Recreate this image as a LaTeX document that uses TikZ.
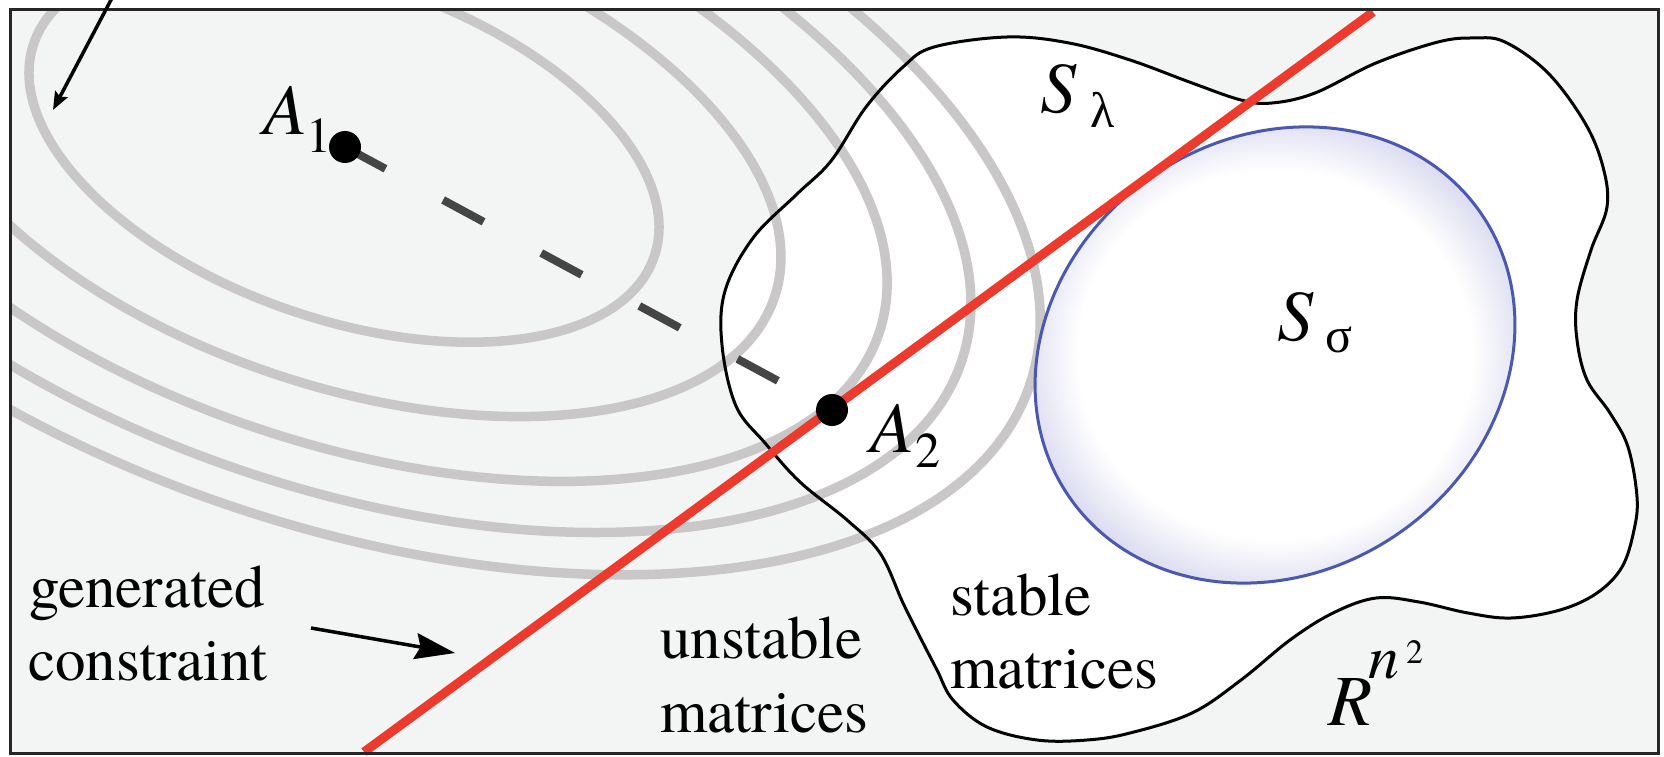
\documentclass[tikz,border=0pt]{standalone}
\usepackage{fontspec}
\setmainfont{TeX Gyre Termes}
\newfontfamily\greekf{Liberation Serif}
\usetikzlibrary{arrows.meta}
\definecolor{bgc}{HTML}{F3F5F4}
\definecolor{ringc}{HTML}{C9C7C8}
\definecolor{redc}{HTML}{EE3A2D}
\definecolor{bluec}{HTML}{4A58B0}
\definecolor{glowc}{HTML}{D0D1EB}
\definecolor{dashc}{HTML}{454545}
\pgfdeclareradialshading{sglow}{\pgfpoint{0bp}{0bp}}{color(0bp)=(white); color(18bp)=(white); color(25bp)=(glowc); color(50bp)=(glowc)}
\begin{document}
\begin{tikzpicture}[x=1pt,y=-1pt,
  ring/.style={ringc, line width=9.5},
  blobline/.style={black, line width=3},
  redline/.style={redc, line width=9},
  dashline/.style={dashc, line width=8, dash pattern=on 46pt off 65.5pt},
  dot/.style={circle, fill=black, minimum size=32pt, inner sep=0pt},
  arr/.style={black, line width=3.5, -{Stealth[length=40pt,width=26pt,inset=5pt]}},
  smallarr/.style={black, line width=3.5, -{Stealth[length=18pt,width=14pt,inset=3pt]}},
  txt/.style={anchor=base west, inner sep=0pt, font=\fontsize{61}{73}\selectfont},
  big/.style={anchor=base west, inner sep=0pt, font=\fontsize{72}{80}\selectfont\itshape},
  sub/.style={anchor=base west, inner sep=0pt, font=\fontsize{50}{55}\selectfont}]
\useasboundingbox (0,0) rectangle (1664,757);
\fill[bgc] (10,10) rectangle (1658,753);
\begin{scope}
\clip (10,10) rectangle (1658,753);
\fill[white] plot[smooth cycle, tension=0.6] coordinates {
(722,345) (725,291) (753,238) (796,195) (831,161) (866,107) (903,67) (934,47)
(1007,37) (1069,43) (1130,60) (1192,83) (1241,100) (1272,103) (1315,93) (1376,63)
(1438,42) (1474,38) (1505,42) (1548,73) (1585,123) (1603,167) (1607,207) (1591,250)
(1577,300) (1577,340) (1587,380) (1610,413) (1628,447) (1637,497) (1634,530) (1622,567)
(1597,593) (1560,610) (1511,618) (1468,613) (1419,602) (1376,598) (1333,613) (1290,640)
(1241,680) (1192,713) (1130,733) (1087,740) (1037,740) (987,727) (953,700) (937,670)
(920,637) (903,603) (880,553) (847,520) (800,482) (765,443) (736,406)};
\foreach \k in {1,1.387,1.724,1.99,2.21}
  \draw[ring, rotate around={-19:(344,150)}] (344,150) ellipse [x radius=\k*328pt, y radius=\k*169pt];
\end{scope}
\shade[shading=sglow, rotate around={34.5:(1275,355)}] (1275,355) ellipse [x radius=250pt, y radius=217pt];
\draw[bluec, line width=3, rotate around={34.5:(1275,355)}] (1275,355) ellipse [x radius=250pt, y radius=217pt];
\draw[blobline] plot[smooth cycle, tension=0.6] coordinates {
(722,345) (725,291) (753,238) (796,195) (831,161) (866,107) (903,67) (934,47)
(1007,37) (1069,43) (1130,60) (1192,83) (1241,100) (1272,103) (1315,93) (1376,63)
(1438,42) (1474,38) (1505,42) (1548,73) (1585,123) (1603,167) (1607,207) (1591,250)
(1577,300) (1577,340) (1587,380) (1610,413) (1628,447) (1637,497) (1634,530) (1622,567)
(1597,593) (1560,610) (1511,618) (1468,613) (1419,602) (1376,598) (1333,613) (1290,640)
(1241,680) (1192,713) (1130,733) (1087,740) (1037,740) (987,727) (953,700) (937,670)
(920,637) (903,603) (880,553) (847,520) (800,482) (765,443) (736,406)};
\coordinate (a1c) at (345,147);
\coordinate (a2c) at (832,410);
\coordinate (rb) at (364,752);
\coordinate (rt) at (1373,12);
\draw[dashline] (a1c) -- (a2c);
\draw[redline] (rb) -- (rt);
\node[dot] (a1) at (a1c) {};
\node[dot] (a2) at (a2c) {};
% labels
\node[big] (la1) at (263,135) {A};
\node[sub] (la1s) at (306,152) {1};
\node[big] (la2) at (870,452) {A};
\node[sub] (la2s) at (915,467) {2};
\node[big] (lsl) at (1040,113) {S};
\node[sub] (lsls) at (1090,128) {\greekf λ};
\node[big] (lss) at (1277,340) {S};
\node[sub] (lsss) at (1325,352) {\greekf σ};
\node[big] (lr) at (1328,725) {R};
\node[anchor=base west, inner sep=0pt, font=\fontsize{62}{66}\selectfont\itshape] (lrn) at (1368,678) {n};
\node[anchor=base west, inner sep=0pt, font=\fontsize{34}{38}\selectfont] (lr2) at (1406,663) {2};
\node[txt] (gen1) at (29,607) {generated};
\node[txt] (gen2) at (28,680) {constraint};
\node[txt] (uns1) at (660,658) {unstable};
\node[txt] (uns2) at (660,732) {matrices};
\node[txt] (st1) at (950,615) {stable};
\node[txt] (st2) at (950,688) {matrices};
\coordinate (gs) at (311,628);
\coordinate (ge) at (455,653);
\draw[arr] (gs) -- (ge);
\draw[line width=3, black!85] (10,10) rectangle (1658,753);
\coordinate (ts) at (112,-2);
\coordinate (te) at (53,110);
\draw[smallarr] (ts) -- (te);
\end{tikzpicture}
\end{document}
